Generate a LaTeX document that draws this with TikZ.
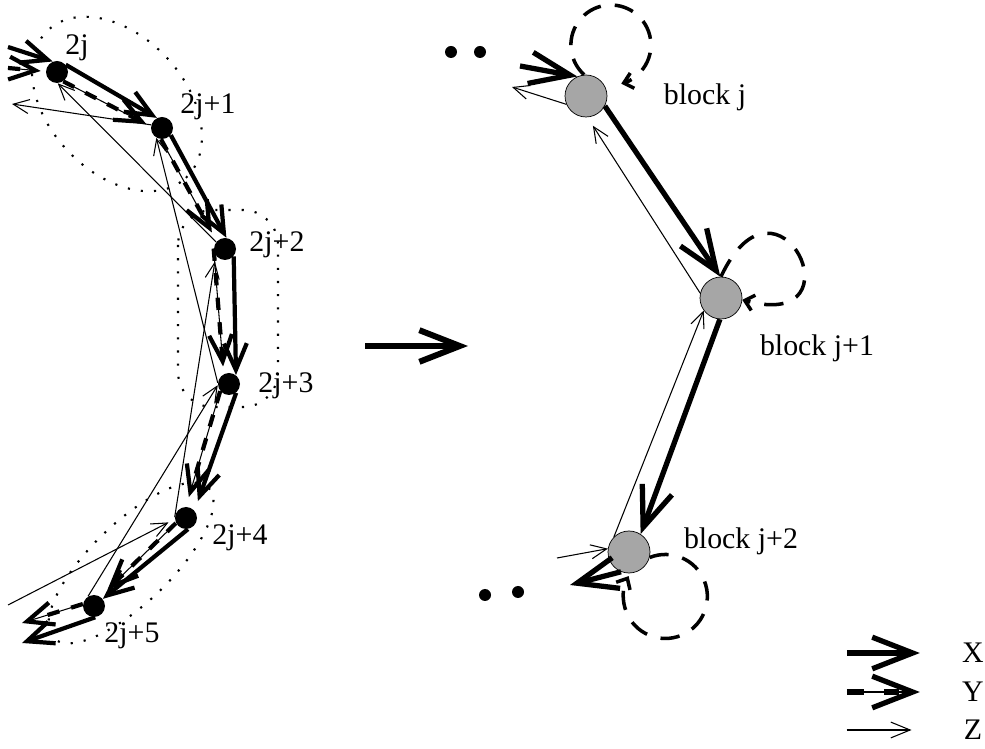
\documentclass[tikz,border=0pt]{standalone}
\usepackage{fontspec}
\setmainfont{Liberation Serif}
\usetikzlibrary{arrows.meta}
\tikzset{
    % sites of the chain
    dot/.style={
           circle,
           fill=black,
           inner sep=0pt,
           minimum size=4.4mm},
    smalldot/.style={
           circle,
           fill=black,
           inner sep=0pt,
           minimum size=2.4mm},
    % blocks after the mapping
    blocknode/.style={
           circle,
           draw=black, thin,
           fill=black!35,
           inner sep=0pt,
           minimum size=8.4mm},
    lbl/.style={
           font=\fontsize{17}{20}\selectfont,
           inner sep=0pt},
    % ring round the two sites of a block
    blockline/.style={
           line width=1.2pt,
           dash pattern=on 1.2pt off 6.3pt},
    % Define coupling arrow styles
    xarr/.style={
           -{Straight Barb[length=15pt,width=13pt]},
           line width=2.4pt},
    yarr/.style={
           -{Straight Barb[length=15pt,width=13pt,line width=2.4pt]},
           line width=0.6pt,
           postaction={draw, -, line width=2.4pt,
                       dash pattern=on 7pt off 7pt, shorten >=9pt}},
    zarr/.style={
           -{Straight Barb[length=9pt,width=8pt]},
           line width=0.6pt},
    xbig/.style={
           -{Straight Barb[length=23pt,width=18pt]},
           line width=3pt},
    ybig/.style={
           -{Straight Barb[length=23pt,width=18pt,line width=3pt]},
           line width=0.6pt,
           postaction={draw, -, line width=3pt,
                       dash pattern=on 10pt off 11pt, shorten >=12pt}},
    zbig/.style={
           -{Straight Barb[length=11pt,width=9pt]},
           line width=0.6pt},
    selfloop/.style={
           -{Straight Barb[length=5pt,width=9pt]},
           line width=2pt,
           dash pattern=on 11pt off 8pt}
}

\begin{document}
\begin{tikzpicture}[x=0.2mm,y=0.2mm]
\useasboundingbox (0,0) rectangle (985,-749);
 %rings of the blocks
\draw[blockline, rotate around={-47:(117,-104)}] (117,-104) ellipse [x radius=101, y radius=68];
\draw[blockline, rounded corners=7mm] (178,-210) rectangle (278,-407);
\draw[blockline, rotate around={44:(131,-563)}] (131,-563) ellipse [x radius=108, y radius=40];
 %sites
\node[dot] (s0) at (57,-72) {};
\node[dot] (s1) at (162,-128) {};
\node[dot] (s2) at (225,-249) {};
\node[dot] (s3) at (229,-384) {};
\node[dot] (s4) at (186,-518) {};
\node[dot] (s5) at (94,-606) {};
\node[lbl] (l0) at (77,-48) {2j};
\node[lbl] (l1) at (208,-107) {2j+1};
\node[lbl] (l2) at (277,-245) {2j+2};
\node[lbl] (l3) at (286,-386) {2j+3};
\node[lbl] (l4) at (240,-538) {2j+4};
\node[lbl] (l5) at (132,-636) {2j+5};
\coordinate (xin) at (8,-47);
\coordinate (yin) at (8,-68);
\coordinate (zout) at (12,-104);
\coordinate (xout) at (22,-643);
\coordinate (yout) at (22,-623);
\coordinate (zin) at (8,-605);
 %X
\draw[xarr] (xin) -- (s0.112);
\draw[xarr] (s0.40) -- (s1.117);
\draw[xarr] (s1.-39) -- (s2.83);
\draw[xarr] (s2.-40) -- (s3.52);
\draw[xarr, shorten >=2mm] (s3.-51) -- (s4.41);
\draw[xarr] (s4.-80) -- (s5.39);
\draw[xarr] (s5.-84) -- (xout);
 %Y
\draw[yarr, shorten >=1mm] (yin) -- (s0.177);
\draw[yarr, shorten >=1mm] (s0.-56) -- (s1.172);
\draw[yarr, shorten >=2mm] (s1.-95) -- (s2.137);
\draw[yarr, shorten >=1.5mm] (s2.178) -- (s3.118);
\draw[yarr, shorten >=2mm] (s3.-141) -- (s4.90);
\draw[yarr, shorten >=2mm] (s4.-153) -- (s5.56);
\draw[yarr] (s5.170) -- (yout);
 %Z
\draw[zarr] (s1.164) -- (zout);
\draw[zarr] (s2.142) -- (s0.-86);
\draw[zarr] (s3.174) -- (s1.-120);
\draw[zarr, shorten >=1.2mm] (s4.176) -- (s2.-144);
\draw[zarr] (s5.122) -- (s3.-174);
\draw[zarr, shorten >=1.4mm] (zin) -- (s4.-174);
 %mapping
\coordinate (mfrom) at (365,-346);
\coordinate (mto) at (468,-346);
\draw[xbig, line width=3.4pt] (mfrom) -- (mto);
 %blocks
\node[blocknode] (b0) at (586,-96) {};
\node[blocknode] (b1) at (721,-298) {};
\node[blocknode] (b2) at (629,-552) {};
\node[lbl] (lb0) at (705,-97) {block j};
\node[lbl] (lb1) at (817,-348) {block j+1};
\node[lbl] (lb2) at (741,-541) {block j+2};
\node[smalldot] (d0) at (451,-52) {};
\node[smalldot] (d1) at (480,-52) {};
\node[smalldot] (d2) at (485,-595) {};
\node[smalldot] (d3) at (518,-592) {};
\coordinate (rxin) at (520,-66);
\coordinate (rzout) at (512,-87);
\coordinate (rxout) at (570,-585);
\coordinate (rzin) at (557,-558);
\draw[xbig] (rxin) -- (b0.114);
\draw[zarr] (b0.-157) -- (rzout);
\draw[xbig] (b0.-28) -- (b1.92);
\draw[zarr, shorten >=2mm] (b1.167) -- (b0.-86);
\draw[xbig] (b1.-93) -- (b2.57);
\draw[zarr] (b2.135) -- (b1.-144);
\draw[xbig] (b2.-112) -- (rxout);
\draw[zarr] (rzin) -- (b2.171);
 %loops
\draw[selfloop] (b0.95) arc[start angle=228, end angle=-75, radius=40];
\draw[selfloop] (b1.90) .. controls +(65:135) and +(-15:125) .. (b1.-5);
\draw[selfloop] (b2.-15) arc[start angle=112, end angle=-209, radius=42];
 %legend
\node[lbl] (kx) at (973,-653) {X};
\node[lbl] (ky) at (973,-692) {Y};
\node[lbl] (kz) at (973,-730) {Z};
\draw[xbig] ([xshift=-23mm]kx.west) -- ([xshift=-8.4mm]kx.west);
\draw[ybig] ([xshift=-23mm]ky.west) -- ([xshift=-8.4mm]ky.west);
\draw[zbig] ([xshift=-23.4mm]kz.west) -- ([xshift=-10.4mm]kz.west);
\end{tikzpicture}
\end{document}
